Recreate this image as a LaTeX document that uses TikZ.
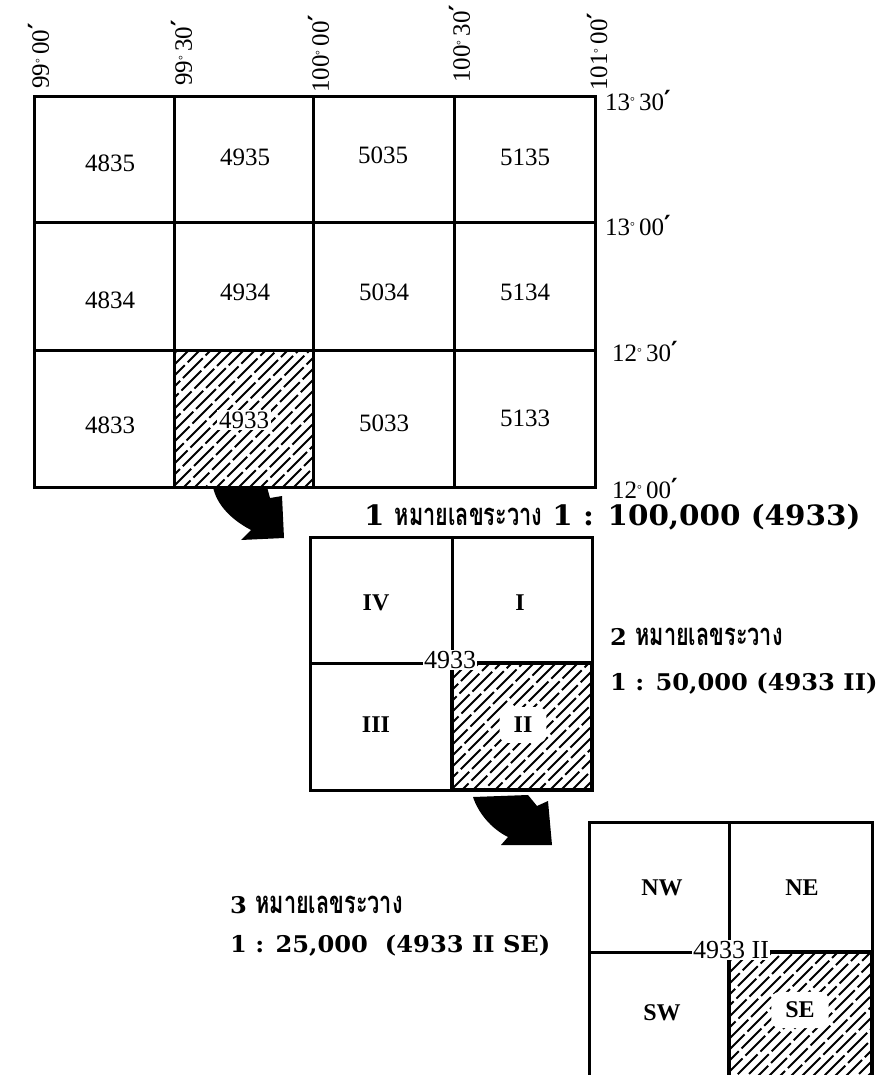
\documentclass[tikz,border=0pt]{standalone}
\usepackage{fontspec}
\setmainfont{Liberation Serif}
\newfontfamily\thaifont[Script=Thai,FakeStretch=0.7]{Loma}
\newfontfamily\scalefont[FakeStretch=1.05]{DejaVu Serif}
\newfontfamily\primefont{DejaVu Serif}
\newcommand\dg{\raisebox{5pt}{\fontsize{12}{12}\selectfont °}}
\newcommand\mn{\raisebox{2pt}{\primefont\bfseries ′}}
\newcommand\thw{{\fontsize{31}{31}\thaifont\bfseries หมายเลขระวาง}}
\newcommand\hatcharea[4]{%
  \begin{scope}
    \clip (#1,#2) rectangle (#3,#4);
    \pgfmathsetseed{11}
    \foreach \k in {-320,-309,...,320}{
      \pgfmathsetmacro\ph{rnd*32}
      \draw[hatchline, dash phase=\ph pt] (#1+\k,#4) -- ++(330,-330);
    }
  \end{scope}}
\tikzset{
  gridline/.style={line width=3pt, line cap=rect},
  thickline/.style={line width=4pt, line cap=rect},
  hatchline/.style={line width=1.9pt, dash pattern=on 28pt off 4pt},
  cellnum/.style={font=\fontsize{25}{25}\selectfont, inner sep=1pt},
  latlbl/.style={font=\fontsize{25}{25}\selectfont, anchor=west, inner sep=0pt},
  lonlbl/.style={font=\fontsize{25}{25}\selectfont, anchor=west, rotate=90, inner sep=0pt},
  quad/.style={font=\fontsize{24}{24}\selectfont\bfseries, inner sep=1pt},
  centerlbl/.style={font=\fontsize{26}{26}\selectfont, fill=white, inner sep=1pt},
  clearlbl/.style={font=\fontsize{24}{24}\selectfont\bfseries, fill=white, rounded corners=8pt, inner xsep=14pt, inner ysep=10pt},
  scalelbl/.style={font=\fontsize{23}{23}\scalefont\bfseries, anchor=west, inner sep=0pt},
  scalelblbig/.style={font=\fontsize{28}{28}\scalefont\bfseries, anchor=west, inner sep=0pt},
  bigarrow/.style={fill=black}
}
\begin{document}
\begin{tikzpicture}[x=1pt,y=-1pt]
\useasboundingbox (0,0) rectangle (884,1075);
\clip (0,0) rectangle (884,1075);

% ---------- main grid 1:100,000 ----------
\hatcharea{174}{350}{313}{487}
\draw[gridline] (34,97) rectangle (595,487);
\foreach \x in {174,313,454} \draw[gridline] (\x,97) -- (\x,487);
\foreach \y in {223,350} \draw[gridline] (34,\y) -- (595,\y);

\node[cellnum] (c4835) at (110,163) {4835};
\node[cellnum] (c4935) at (245,157) {4935};
\node[cellnum] (c5035) at (383,155) {5035};
\node[cellnum] (c5135) at (525,157) {5135};
\node[cellnum] (c4834) at (110,300) {4834};
\node[cellnum] (c4934) at (245,292) {4934};
\node[cellnum] (c5034) at (384,292) {5034};
\node[cellnum] (c5134) at (525,292) {5134};
\node[cellnum] (c4833) at (110,425) {4833};
\node[cellnum, fill=white, inner sep=2pt] (c4933) at (244,420) {4933};
\node[cellnum] (c5033) at (384,423) {5033};
\node[cellnum] (c5133) at (525,418) {5133};

% longitude labels
\node[lonlbl] (lon1) at (39,89) {99\dg\,00\mn};
\node[lonlbl] (lon2) at (182,86) {99\dg\,30\mn};
\node[lonlbl] (lon3) at (319,93) {100\dg\,00\mn};
\node[lonlbl] (lon4) at (460,83) {100\dg\,30\mn};
\node[lonlbl] (lon5) at (597,91) {101\dg\,00\mn};

% latitude labels
\node[latlbl] (lat1) at (605,101) {13\dg\,30\mn};
\node[latlbl] (lat2) at (605,226) {13\dg\,00\mn};
\node[latlbl] (lat3) at (612,352) {12\dg\,30\mn};
\node[latlbl] (lat4) at (612,489) {12\dg\,00\mn};

% arrow 1
\fill[bigarrow] (213,487) -- (267,487) -- (270,498) -- (282,496) -- (284,538)
  -- (241,540) -- (251,530) .. controls (228,518) and (216,502) .. (213,487) -- cycle;

\node[scalelblbig] (s1) at (364,517) {1 \thw\ 1 : 100,000 (4933)};

% ---------- box 2 1:50,000 ----------
\hatcharea{452}{663}{592}{790}
\draw[gridline] (310,537) rectangle (592,790);
\draw[gridline] (452,537) -- (452,790);
\draw[gridline] (310,663) -- (592,663);
\draw[thickline] (452,663) rectangle (592,790);
\node[quad] (q4) at (376,603) {IV};
\node[quad] (q1) at (520,603) {I};
\node[quad] (q3) at (376,725) {III};
\node[clearlbl] (q2) at (523,725) {II};
\node[centerlbl] (b2c) at (450,660) {4933};

\node[scalelbl] (s2a) at (610,637) {2 \thw};
\node[scalelbl] (s2b) at (610,684) {1 : 50,000 (4933 II)};

% arrow 2
\fill[bigarrow] (473,797) -- (528,795) -- (537,806) -- (548,801) -- (552,845)
  -- (501,845) -- (508,837) .. controls (490,828) and (478,812) .. (473,797) -- cycle;

% ---------- box 3 1:25,000 ----------
\hatcharea{729}{952}{872}{1095}
\draw[gridline] (589,822) rectangle (872,1095);
\draw[gridline] (729,822) -- (729,1095);
\draw[gridline] (589,952) -- (872,952);
\draw[thickline] (729,952) rectangle (872,1095);
\node[quad] (nw) at (662,888) {NW};
\node[quad] (ne) at (802,888) {NE};
\node[quad] (sw) at (662,1013) {SW};
\node[clearlbl] (se) at (800,1010) {SE};
\node[centerlbl] (b3c) at (731,950) {4933 II};

\node[scalelbl] (s3a) at (230,905) {3 \thw};
\node[scalelbl] (s3b) at (230,946) {1 : 25,000\hspace{17pt}(4933 II SE)};
\end{tikzpicture}
\end{document}
